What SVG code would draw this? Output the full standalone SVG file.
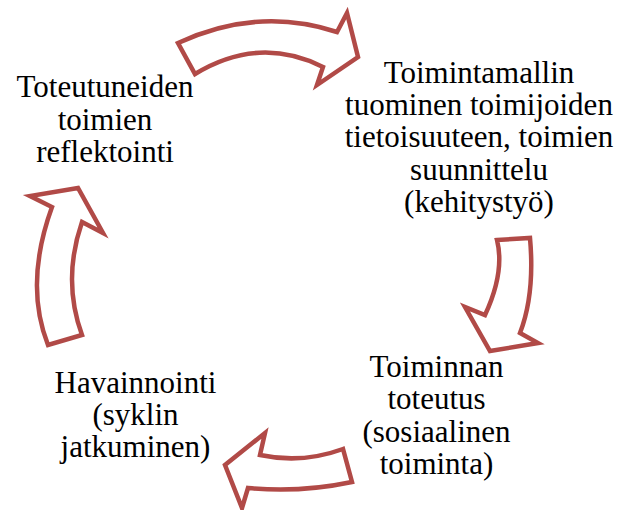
<svg xmlns="http://www.w3.org/2000/svg" width="621" height="510" viewBox="0 0 621 510">
  <style>
    .arrow { fill: #ffffff; stroke: #b14a47; stroke-width: 4.5; stroke-linejoin: miter; }
    text { font-family: 'Liberation Serif', 'Times New Roman', Times, 'DejaVu Serif', serif; font-size: 31px; fill: #000000; text-anchor: middle; }
  </style>
  <rect width="621" height="510" fill="#ffffff"/>

  <!-- curved block arrows running clockwise between the stages -->
  <g id="connectors">
    <path class="arrow" d="M178,43 Q258,6 337,32 L347,13 L358,57 L317,85 L323,67 Q259,35 195,74 Z"/>
    <path class="arrow" d="M497,240 L530,238 Q535,294 520,333 L538,343 L490,351 L465,307 L485,315 Q505,272 497,240 Z"/>
    <path class="arrow" d="M343,449 Q302,464 260,455 L265,433 L225,465 L242,508 L248,488 Q300,493 352,482 Z"/>
    <path class="arrow" d="M78,188 L30,196 L52,207 Q24,284 48,345 L82,335 Q62,280 82,222 L103,233 Z"/>
  </g>

  <g id="reflection">
    <text x="105" y="97">Toteutuneiden</text>
    <text x="105" y="129.5">toimien</text>
    <text x="105" y="162">reflektointi</text>
  </g>

  <g id="planning">
    <text x="479" y="83">Toimintamallin</text>
    <text x="479" y="115">tuominen toimijoiden</text>
    <text x="479" y="147">tietoisuuteen, toimien</text>
    <text x="479" y="179.5">suunnittelu</text>
    <text x="479" y="211.5">(kehitystyö)</text>
  </g>

  <g id="implementation">
    <text x="436.5" y="377">Toiminnan</text>
    <text x="436.5" y="409">toteutus</text>
    <text x="436.5" y="441.5">(sosiaalinen</text>
    <text x="436.5" y="473.5">toiminta)</text>
  </g>

  <g id="observation">
    <text x="135.5" y="393">Havainnointi</text>
    <text x="135.5" y="425">(syklin</text>
    <text x="135.5" y="457">jatkuminen)</text>
  </g>
</svg>
